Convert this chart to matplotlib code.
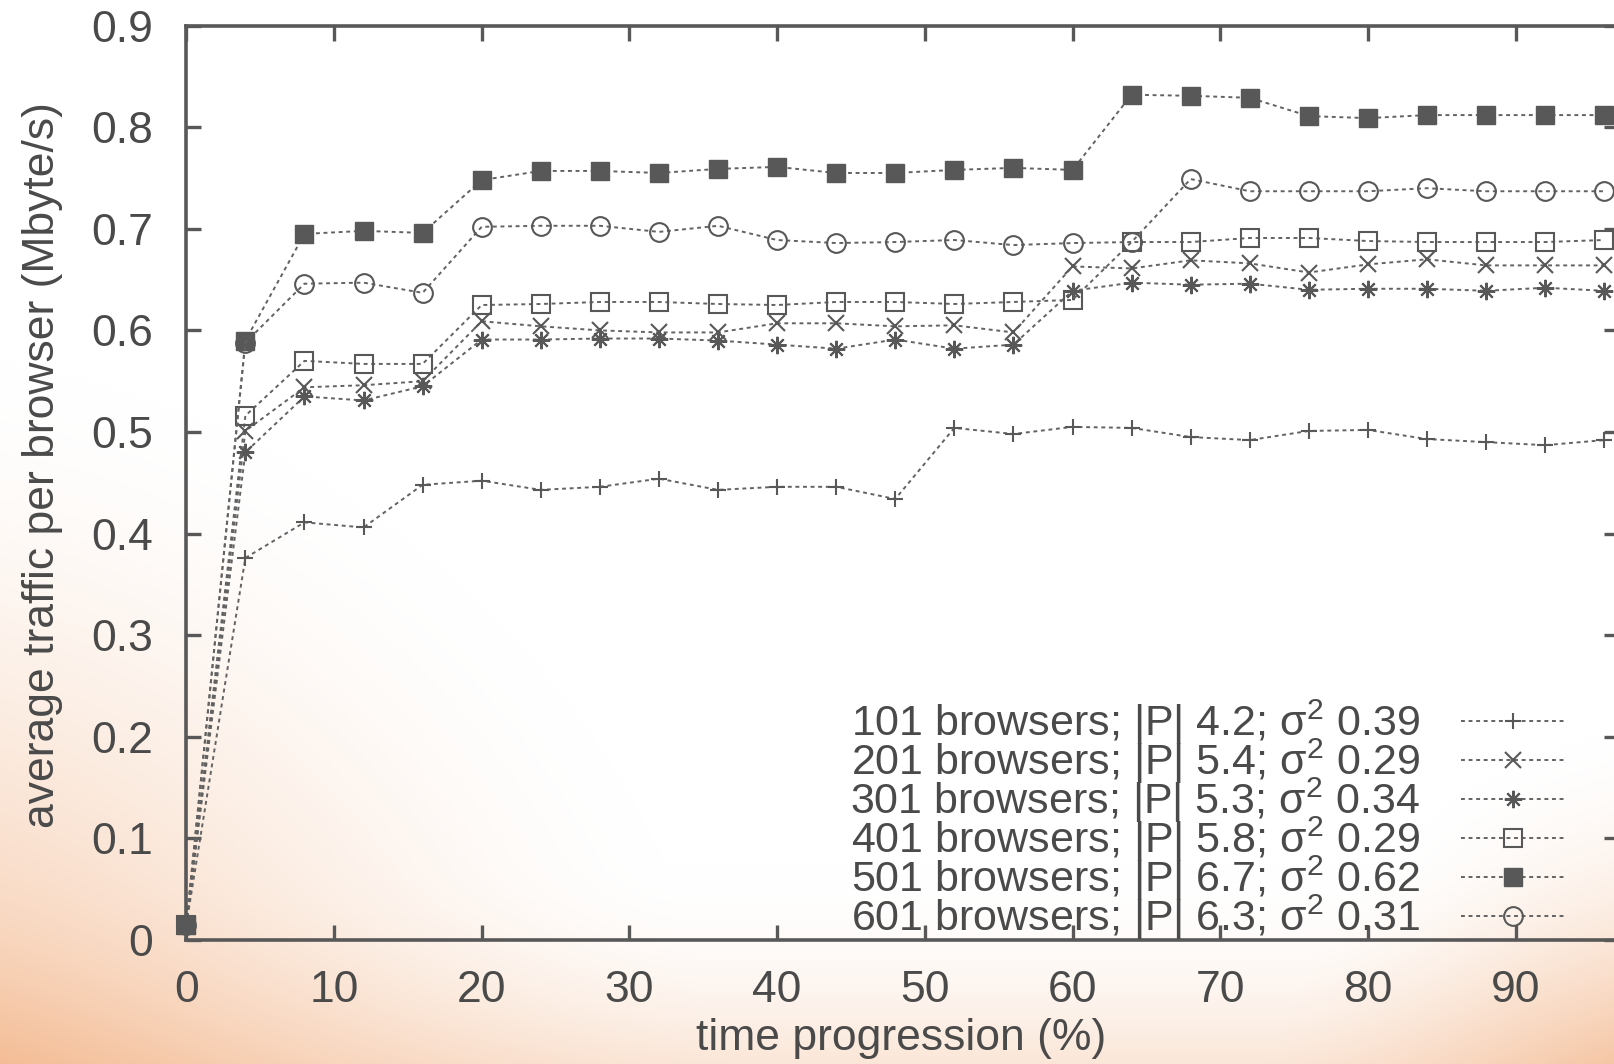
import numpy as np
import matplotlib
matplotlib.use("Agg")
import matplotlib.pyplot as plt

plt.rcParams['font.family'] = ['Liberation Sans', 'DejaVu Sans']
plt.rcParams['mathtext.fontset'] = 'custom'
plt.rcParams['mathtext.rm'] = 'Liberation Sans'
plt.rcParams['mathtext.it'] = 'Liberation Sans'
plt.rcParams['mathtext.default'] = 'regular'

# ---------------- data ----------------
time_pct = [0, 4, 8, 12, 16, 20, 24, 28, 32, 36, 40, 44, 48,
            52, 56, 60, 64, 68, 72, 76, 80, 84, 88, 92, 96]

b101 = [0.015, 0.376, 0.411, 0.406, 0.448, 0.452, 0.443, 0.446, 0.454, 0.443, 0.446, 0.446, 0.434,
        0.504, 0.498, 0.505, 0.504, 0.495, 0.492, 0.501, 0.502, 0.493, 0.490, 0.487, 0.492]
b201 = [0.015, 0.501, 0.544, 0.546, 0.550, 0.609, 0.604, 0.600, 0.598, 0.598, 0.607, 0.607, 0.604,
        0.605, 0.598, 0.663, 0.661, 0.669, 0.666, 0.657, 0.665, 0.670, 0.664, 0.664, 0.664]
b301 = [0.015, 0.480, 0.535, 0.531, 0.545, 0.591, 0.591, 0.592, 0.592, 0.590, 0.586, 0.582, 0.591,
        0.582, 0.586, 0.639, 0.647, 0.645, 0.646, 0.640, 0.641, 0.641, 0.639, 0.642, 0.639]
b401 = [0.015, 0.516, 0.570, 0.567, 0.567, 0.625, 0.626, 0.628, 0.628, 0.626, 0.625, 0.628, 0.628,
        0.626, 0.628, 0.630, 0.687, 0.687, 0.691, 0.691, 0.688, 0.687, 0.687, 0.687, 0.689]
b501 = [0.015, 0.590, 0.695, 0.698, 0.696, 0.748, 0.757, 0.757, 0.755, 0.759, 0.761, 0.755, 0.755,
        0.758, 0.760, 0.758, 0.832, 0.831, 0.829, 0.811, 0.809, 0.812, 0.812, 0.812, 0.812]
b601 = [0.015, 0.588, 0.646, 0.647, 0.637, 0.702, 0.703, 0.703, 0.697, 0.703, 0.689, 0.686, 0.687,
        0.689, 0.684, 0.686, 0.687, 0.749, 0.737, 0.737, 0.737, 0.740, 0.737, 0.737, 0.737]

labels = [
    "101 browsers; |P| 4.2; σ$^{2}$ 0.39",
    "201 browsers; |P| 5.4; σ$^{2}$ 0.29",
    "301 browsers; |P| 5.3; σ$^{2}$ 0.34",
    "401 browsers; |P| 5.8; σ$^{2}$ 0.29",
    "501 browsers; |P| 6.7; σ$^{2}$ 0.62",
    "601 browsers; |P| 6.3; σ$^{2}$ 0.31",
]
series = [b101, b201, b301, b401, b501, b601]

x_ticks = [0, 10, 20, 30, 40, 50, 60, 70, 80, 90]
y_ticks = [0, 0.1, 0.2, 0.3, 0.4, 0.5, 0.6, 0.7, 0.8, 0.9]
y_ticklabels = ["0", "0.1", "0.2", "0.3", "0.4", "0.5", "0.6", "0.7", "0.8", "0.9"]

# ---------------- figure ----------------
W, H = 1614, 1064
fig = plt.figure(figsize=(W / 100, H / 100), dpi=100)

# background glow
bg = fig.add_axes([0, 0, 1, 1], zorder=-10)
gh, gw = 266, 404
yy, xx = np.mgrid[0:gh, 0:gw].astype(float)
yy = yy * H / gh
xx = xx * W / gw
d1 = np.hypot(xx + 150, yy - 1250)
a1 = 0.75 * np.clip(1 - d1 / 900, 0, 1) ** 1.6
a2 = 0.22 * np.clip((yy - 860) / 204, 0, 1) ** 2
d3 = np.hypot(xx - 1720, yy - 1200)
a3 = 0.70 * np.clip(1 - d3 / 480, 0, 1) ** 1.5
alpha = 1 - (1 - a1) * (1 - a2) * (1 - a3)
orange = np.array([236, 140, 72]) / 255.0
img = (1 - alpha[..., None]) * np.ones(3) + alpha[..., None] * orange
bg.imshow(img, extent=[0, W, H, 0], interpolation='bilinear', aspect='auto')
bg.set_xlim(0, W)
bg.set_ylim(H, 0)
bg.axis('off')

left_px, right_px = 186.3, 1619.0
top_px, bottom_px = 25.7, 939.8
ax = fig.add_axes([left_px / W, (H - bottom_px) / H,
                   (right_px - left_px) / W, (bottom_px - top_px) / H])
ax.set_facecolor('none')

gray = '#585858'
linegray = '#626262'
txt = '#4a4a4a'
ls = (0, (2.0, 1.9))
lw = 1.4
styles = [
    dict(marker='+', markersize=11.5, markeredgewidth=1.5),
    dict(marker='x', markersize=11, markeredgewidth=1.5),
    dict(marker=(8, 2, 0), markersize=12.5, markeredgewidth=1.5),
    dict(marker='s', markersize=13.5, markeredgewidth=1.5, markerfacecolor='none'),
    dict(marker='s', markersize=13.5, markeredgewidth=1.0, markerfacecolor=gray),
    dict(marker='o', markersize=13.5, markeredgewidth=1.5, markerfacecolor='none'),
]
for vals, lab, st in zip(series, labels, styles):
    ax.plot(time_pct, vals, color=linegray, linestyle=ls, linewidth=lw,
            markeredgecolor=gray, label=lab, clip_on=False, **st)

ax.set_xlim(0, 97)
ax.set_ylim(0, 0.9)
ax.set_xticks(x_ticks)
ax.set_yticks(y_ticks)
ax.set_yticklabels(y_ticklabels)

for sp in ax.spines.values():
    sp.set_color(gray)
    sp.set_linewidth(2.6)
ax.tick_params(axis='both', which='both', direction='in', length=11, width=2.4,
               color=gray, labelsize=32, labelcolor=txt,
               top=True, right=True)
ax.tick_params(axis='x', pad=22)
ax.tick_params(axis='y', pad=24)

ax.set_xlabel("time progression (%)", fontsize=32, color=txt)
ax.set_ylabel("average traffic per browser (Mbyte/s)", fontsize=32, color=txt)
ax.xaxis.set_label_coords(0.4986, -0.1080)
ax.xaxis.label.set(va='center', ha='center')
ax.yaxis.set_label_coords(-0.1005, 0.5194)
ax.yaxis.label.set(va='center', ha='center', rotation_mode='default')

leg = ax.legend(loc='lower right', bbox_to_anchor=(1566 / W, (H - 942) / H),
                bbox_transform=fig.transFigure, frameon=False, markerfirst=False,
                fontsize=31, handlelength=2.45, handletextpad=0.95,
                labelspacing=-0.24, borderpad=0, borderaxespad=0, numpoints=1)
for t in leg.get_texts():
    t.set_color(txt)

fig.savefig("out.png", dpi=100)
